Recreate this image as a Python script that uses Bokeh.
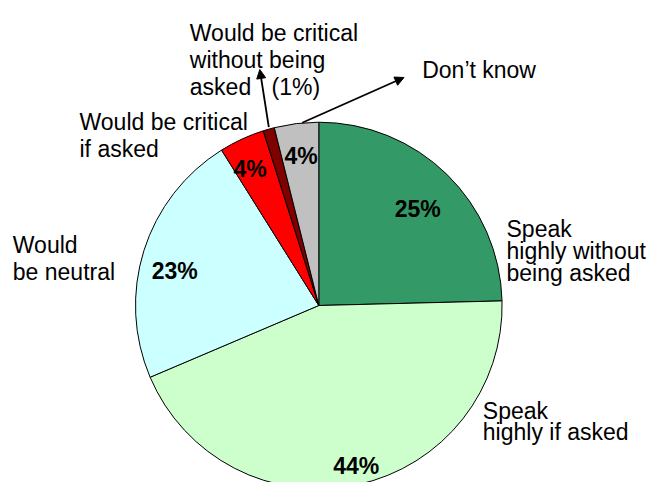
import numpy as np
from bokeh.plotting import figure
from bokeh.models import Range1d, Arrow, NormalHead, ColumnDataSource
from bokeh.core.properties import value
from bokeh.embed import file_html
from bokeh.resources import INLINE

# ---- data ----
categories = ["Speak highly without being asked", "Speak highly if asked",
              "Would be neutral", "Would be critical if asked",
              "Would be critical without being asked", "Don't know"]
shares = [24.6, 44.0, 22.5, 4.0, 1.0, 3.9]
pct_labels = ["25%", "44%", "23%", "4%", "", "4%"]
colors = ["#339966", "#CCFFCC", "#CCFFFF", "#FF0000", "#800000", "#C0C0C0"]

# ---- layout (screen pixels) ----
W, H = 650, 482
CX, CY, R = 318.3, 305.0, 183.3
FONT = "Liberation Sans"

def sy(y):  # screen y -> data y
    return H - y

p = figure(width=W, height=H, x_range=Range1d(0, W), y_range=Range1d(0, H),
           toolbar_location=None, output_backend="svg", min_border=0,
           x_axis_type=None, y_axis_type=None)
p.grid.visible = False
p.outline_line_color = None
p.background_fill_color = "white"
p.border_fill_color = "white"

vals = np.array(shares, dtype=float)
frac = vals / vals.sum()
cum = np.concatenate([[0.0], np.cumsum(frac)])
start = np.deg2rad(90 - cum[:-1] * 360)
end = np.deg2rad(90 - cum[1:] * 360)

src = ColumnDataSource(dict(start=start, end=end, color=colors, cat=categories))
p.wedge(x=CX, y=sy(CY), radius=R, start_angle="start", end_angle="end",
        direction="clock", fill_color="color", line_color="black",
        line_width=1, source=src)

# percent labels (bold), centered
pct_x = [417.2, 355.8, 174.2, 249.5, 0, 300.5]
pct_base = [208.5, 465.0, 270.0, 168.3, 0, 155.7]
keep = [i for i, t in enumerate(pct_labels) if t]
p.text(x=[pct_x[i] for i in keep], y=[sy(pct_base[i]) for i in keep],
       text=[pct_labels[i] for i in keep], text_font=value(FONT),
       text_font_size="23px", text_font_style="bold", text_align="center",
       text_baseline="alphabetic", text_color="black")

# category labels, one line each
label_lines = ["Speak", "highly without", "being asked",
               "Speak", "highly if asked",
               "Would", "be neutral",
               "Would be critical", "if asked",
               "Would be critical", "without being", "asked", "(1%)",
               "Don\u2019t know"]
line_x = [506, 506, 506,
          482.3, 482.3,
          12.3, 12.3,
          79, 79,
          189.3, 189.3, 189.3, 271,
          421.7]
line_base = [228.3, 250.5, 272.0,
             410.0, 431.7,
             244.0, 271.7,
             121.7, 148.3,
             32.5, 59.3, 86.5, 86.5,
             69.0]
p.text(x=line_x, y=[sy(v) for v in line_base], text=label_lines,
       text_font=value(FONT), text_font_size="23px", text_align="left",
       text_baseline="alphabetic", text_color="black")

# leader arrows
arrows = [((268.3, 126.7), (259.3, 69.0)), ((301.7, 122.3), (403.5, 77.0))]
for (x0, y0), (x1, y1) in arrows:
    p.add_layout(Arrow(end=NormalHead(size=9, fill_color="black", line_color="black"),
                       x_start=x0, y_start=sy(y0), x_end=x1, y_end=sy(y1),
                       line_color="black", line_width=1.8))

open("out.html", "w").write(file_html(p, INLINE))
